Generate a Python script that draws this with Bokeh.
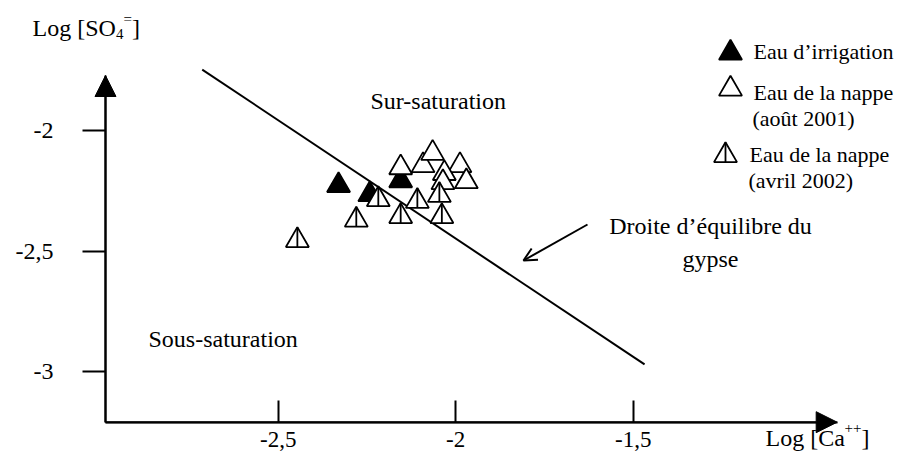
from bokeh.plotting import figure
from bokeh.models import (Range1d, LinearAxis, FixedTicker, CustomJSTickFormatter,
                          Label, Arrow, NormalHead, OpenHead)
from bokeh.embed import file_html
from bokeh.resources import INLINE

# ---------------- data ----------------
irrig_ca = [-2.330, -2.242, -2.155]
irrig_so4 = [-2.227, -2.265, -2.207]

aug_ca = [-2.155, -2.092, -2.065, -1.988, -2.032, -1.970, -2.036]
aug_so4 = [-2.153, -2.144, -2.093, -2.144, -2.177, -2.211, -2.215]

apr_ca = [-2.446, -2.280, -2.218, -2.155, -2.108, -2.039, -2.046]
apr_so4 = [-2.456, -2.371, -2.286, -2.356, -2.293, -2.356, -2.268]

eq_ca = [-2.714, -1.468]
eq_so4 = [-1.745, -2.972]

x_ticks = [-2.5, -2.0, -1.5]
y_ticks = [-3.0, -2.5, -2.0]

# ---------------- layout ----------------
W, H = 894, 451
X0, X1 = -3.28225, -0.76394
Y0, Y1 = -3.33437, -1.45755
Y_AXIS_X = -2.9865     # where the vertical axis stands
X_AXIS_Y = -3.2124     # where the horizontal axis lies
X_TIP = -0.9254
Y_TIP = -1.7697
FONT = "Liberation Serif"
FS = "24px"
FS_LEG = "22px"
LABEL_SHIFT = 8        # compensates the label baseline placement

PX_PER_X = W / (X1 - X0)
PX_PER_Y = H / (Y1 - Y0)


def sx(X):  # picture px -> screen units (frame = canvas)
    return X


def sy(Y):
    return H - Y


def dx(X):  # picture px -> data
    return X0 + X / PX_PER_X


def dy(Y):
    return Y1 - Y / PX_PER_Y


p = figure(width=W, height=H, output_backend="svg", toolbar_location=None,
           x_range=Range1d(X0, X1), y_range=Range1d(Y0, Y1),
           x_axis_type=None, y_axis_type=None, min_border=0)
p.title.visible = False
p.outline_line_color = None
p.background_fill_color = "white"
p.border_fill_color = "white"

fmt = CustomJSTickFormatter(code="return tick.toString().replace('.', ',');")

xaxis = LinearAxis(fixed_location=X_AXIS_Y,
                   ticker=FixedTicker(ticks=x_ticks, minor_ticks=[]),
                   formatter=fmt, bounds=(Y_AXIS_X, X_TIP))
xaxis.axis_line_width = 2
xaxis.axis_line_color = "black"
xaxis.major_tick_in = 22
xaxis.major_tick_out = 0
xaxis.minor_tick_in = 0
xaxis.minor_tick_out = 0
xaxis.major_tick_line_width = 2
xaxis.major_tick_line_color = "black"
xaxis.major_label_standoff = 10
xaxis.major_label_text_font = FONT
xaxis.major_label_text_font_size = "23px"
xaxis.major_label_text_color = "black"
p.add_layout(xaxis, "below")

yaxis = LinearAxis(fixed_location=Y_AXIS_X,
                   ticker=FixedTicker(ticks=y_ticks, minor_ticks=[]),
                   formatter=fmt, bounds=(X_AXIS_Y, Y_TIP))
yaxis.axis_line_width = 2
yaxis.axis_line_color = "black"
yaxis.major_tick_in = 0
yaxis.major_tick_out = 23
yaxis.minor_tick_in = 0
yaxis.minor_tick_out = 0
yaxis.major_tick_line_width = 2
yaxis.major_tick_line_color = "black"
yaxis.major_label_standoff = 29
yaxis.major_label_text_font = FONT
yaxis.major_label_text_font_size = "24px"
yaxis.major_label_text_color = "black"
p.add_layout(yaxis, "left")

# axis arrow heads
p.add_layout(Arrow(end=NormalHead(size=21, fill_color="black", line_color="black", line_width=1),
                   x_start=Y_AXIS_X, y_start=X_AXIS_Y, x_end=X_TIP, y_end=X_AXIS_Y,
                   line_width=2, line_color="black"))
p.add_layout(Arrow(end=NormalHead(size=21, fill_color="black", line_color="black", line_width=1),
                   x_start=Y_AXIS_X, y_start=X_AXIS_Y, x_end=Y_AXIS_X, y_end=Y_TIP,
                   line_width=2, line_color="black"))

# equilibrium line
p.line(eq_ca, eq_so4, line_width=2, line_color="black")

# markers
MS = 23
TRI_H = MS * 3 ** 0.5 / 2
UP = TRI_H * 2 / 3 / PX_PER_Y
DN = TRI_H / 3 / PX_PER_Y

p.scatter(irrig_ca, irrig_so4, marker="triangle", size=MS,
          fill_color="black", line_color="black", line_width=1.8)
p.scatter(aug_ca, aug_so4, marker="triangle", size=MS,
          fill_color="white", line_color="black", line_width=1.8)
p.scatter(apr_ca, apr_so4, marker="triangle", size=MS,
          fill_color="white", line_color="black", line_width=1.8)
p.segment(x0=apr_ca, y0=[v + UP for v in apr_so4], x1=apr_ca, y1=[v - DN for v in apr_so4],
          line_color="black", line_width=1.8)

# legend keys (layout positions in picture px)
leg_keys = [(730, 52.5, "black"), (730, 88.5, "white"), (725, 155, "white")]
for kx, ky, fc in leg_keys:
    p.scatter([dx(kx)], [dy(ky)], marker="triangle", size=MS,
              fill_color=fc, line_color="black", line_width=1.8)
p.segment(x0=[dx(725)], y0=[dy(155) + UP], x1=[dx(725)], y1=[dy(155) - DN],
          line_color="black", line_width=1.8)


def lab(X, Y, text, size=FS, align="left"):
    p.add_layout(Label(x=sx(X), y=sy(Y - LABEL_SHIFT), x_units="screen", y_units="screen",
                       text=text, text_font=FONT, text_font_size=size, text_color="black",
                       text_baseline="alphabetic", text_align=align))


lab(753, 58.5, "Eau d\u2019irrigation", FS_LEG)
lab(753, 100, "Eau de la nappe", FS_LEG)
lab(752, 126, "(ao\u00fbt 2001)", FS_LEG)
lab(749, 162, "Eau de la nappe", FS_LEG)
lab(748, 188, "(avril 2002)", FS_LEG)

lab(370, 108, "Sur-saturation")
lab(148, 346.5, "Sous-saturation")
lab(710, 233, "Droite d\u2019\u00e9quilibre du", align="center")
lab(710, 266, "gypse", align="center")

# y-axis title: Log [SO4=]
lab(32, 35, "Log [SO")
lab(115.5, 41, "4", size="15px")
lab(123, 26, "=", size="15px")
lab(131.5, 35, "]")

# x-axis title: Log [Ca++]
lab(765, 445, "Log [Ca")
lab(844, 435, "++", size="15px")
lab(861, 445, "]")

# annotation arrow
p.add_layout(Arrow(end=OpenHead(size=13, line_width=2, line_color="black"),
                   x_start=sx(587), y_start=sy(224), x_end=sx(523), y_end=sy(260),
                   start_units="screen", end_units="screen",
                   line_width=2, line_color="black"))

open("out.html", "w").write(file_html(p, INLINE))
